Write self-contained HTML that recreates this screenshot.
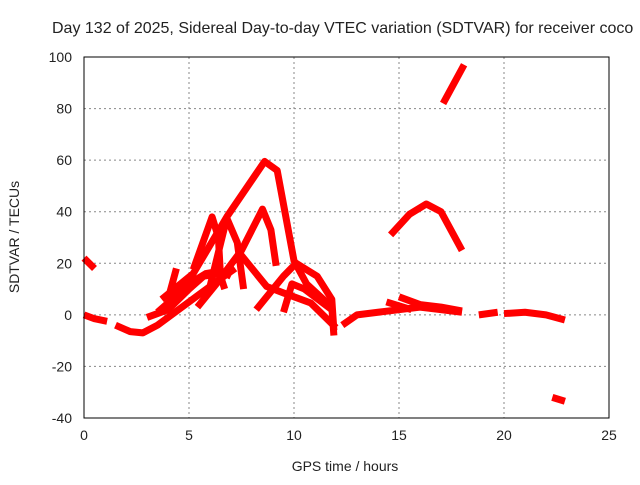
<!DOCTYPE html>
<html><head><meta charset="utf-8"><style>
body{margin:0;background:#fff;font-family:"Liberation Sans",sans-serif}
svg text{font-family:"Liberation Sans",sans-serif;font-size:14px;fill:#222}
</style></head><body>
<svg width="640" height="480">
<text x="52" y="33" style="font-size:16px">Day 132 of 2025, Sidereal Day-to-day VTEC variation (SDTVAR) for receiver coco</text>
<g id="grid"></g><g id="marks"></g><g id="axes"></g>
<text x="345" y="471" text-anchor="middle">GPS time / hours</text>
<text transform="translate(19,237) rotate(-90)" text-anchor="middle">SDTVAR / TECUs</text>
</svg>
<script>
const xTicks=[0,5,10,15,20,25];
const yTicks=[-40,-20,0,20,40,60,80,100];
const trackA=[[3.7,6],[5.2,16],[6.8,38],[8.6,59.5],[9.2,56],[10,21],[10.6,12],[11.8,3],[11.9,-8]];
const trackB=[[5.4,3],[6.3,12],[7.5,25],[8.5,41],[8.9,33],[9.15,19]];
const trackC=[[5.2,17.5],[6.1,38],[6.4,30],[6.5,15],[6.7,10]];
const trackD=[[6.0,11],[6.8,37.5],[7.3,28],[7.6,10]];
const trackD2=[[7.4,24],[8.7,11],[9.5,8.5],[10.8,4.6],[12,-5]];
const trackE=[[8.2,2],[9.5,15],[10.1,20],[11.1,15],[11.8,6],[11.9,-6]];
const trackF=[[9.5,1],[9.9,12],[10.5,10],[11.8,2]];
const trackG=[[0,0],[0.5,-1.5],[1.1,-2.5]];
const trackH=[[1.5,-4],[2.2,-6.5],[2.8,-7],[3.5,-4],[4.5,2],[5.5,8],[6.5,14],[7.2,18]];
const trackI=[[3,-1],[4,2],[5,10],[5.7,15],[6.5,16]];
const trackJ=[[3.5,1],[4.2,6],[5,12],[5.8,16],[6.5,17],[7,15]];
const trackK=[[4,6],[4.4,18]];
const trackL=[[0,22],[0.5,18]];
const trackM=[[12.3,-4],[13,0],[14,1],[15,2],[16,3],[17,2],[18,1]];
const trackN=[[14.4,5],[15,3.5],[15.6,2]];
const trackO=[[15,7],[16,4],[17,3],[18,1.5]];
const trackP=[[18.8,0],[19.7,1]];
const trackQ=[[20,0.5],[21,1],[22,0],[22.9,-2]];
const trackR=[[14.6,31],[15.5,39],[16.3,43],[17,40],[18,25]];
const trackS=[[17.1,82],[18.1,97]];
const trackT=[[22.3,-32],[22.9,-33.5]];
const tracks=[trackA,trackB,trackC,trackD,trackD2,trackE,trackF,trackG,trackH,trackI,trackJ,trackK,trackL,trackM,trackN,trackO,trackP,trackQ,trackR,trackS,trackT];
const X0=84,X1=609,Y0=418,Y1=57;
const sx=t=>X0+(t-0)/25*(X1-X0);
const sy=v=>Y0-(v+40)/140*(Y0-Y1);
const NS="http://www.w3.org/2000/svg";
const grid=document.getElementById('grid'),axes=document.getElementById('axes'),marks=document.getElementById('marks');
function mk(p,tag,attrs){const e=document.createElementNS(NS,tag);for(const k in attrs)e.setAttribute(k,attrs[k]);p.appendChild(e);return e;}
xTicks.forEach(t=>{
 if(t>0&&t<25){const g=mk(grid,'line',{x1:sx(t),x2:sx(t),y1:Y1,y2:Y0,stroke:'#888','stroke-dasharray':'2,3'});
 
 }
 const l=mk(axes,'text',{x:sx(t),y:Y0+22,'text-anchor':'middle'});l.textContent=t;
 
 
});
yTicks.forEach(v=>{
 if(v>-40&&v<100){const g=mk(grid,'line',{x1:X0,x2:X1,y1:sy(v),y2:sy(v),stroke:'#888','stroke-dasharray':'2,3'});
 
 }
 const l=mk(axes,'text',{x:X0-12,y:sy(v)+5,'text-anchor':'end'});l.textContent=v;
 
 
});
const frame=mk(axes,'rect',{x:X0,y:Y1,width:X1-X0,height:Y0-Y1,fill:'none',stroke:'#000','stroke-width':1});


tracks.forEach(tr=>{
 const pl=mk(marks,'polyline',{points:tr.map(p=>sx(p[0])+','+sy(p[1])).join(' '),fill:'none',stroke:'#ff0000','stroke-width':7,'stroke-linejoin':'round','stroke-linecap':'butt'});
 
 
});
</script>
</body></html>
